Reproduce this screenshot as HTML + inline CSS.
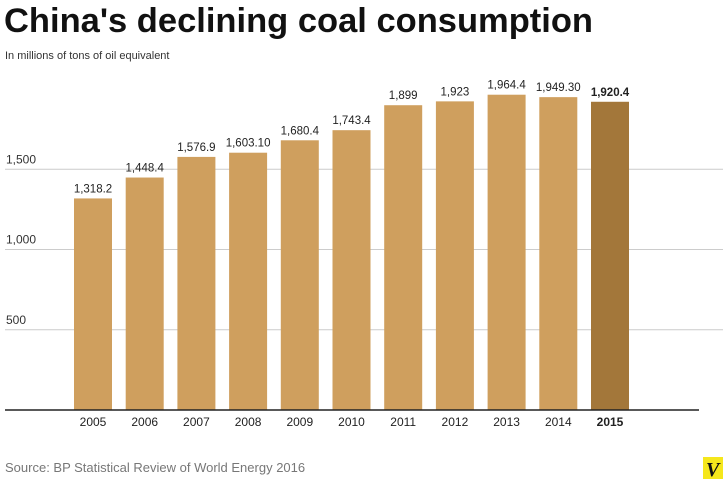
<!DOCTYPE html>
<html><head><meta charset="utf-8"><style>
body{margin:0;width:723px;height:480px;background:#fff;overflow:hidden;font-family:"Liberation Sans",sans-serif;}
</style></head><body>
<svg width="723" height="480" id="c">
<text x="4" y="32" font-size="34.5" font-weight="bold" fill="#111" letter-spacing="0">China's declining coal consumption</text>
<text x="5" y="59" font-size="11" fill="#333">In millions of tons of oil equivalent</text>
<text x="5" y="472" font-size="13" fill="#777">Source: BP Statistical Review of World Energy 2016</text>
<rect x="703" y="457" width="20" height="22" fill="#f5e71c"/>
<text x="706" y="476" font-size="20" font-weight="bold" font-style="italic" font-family="Liberation Serif,serif" fill="#111">V</text>
</svg>
<script>
const years=["2005","2006","2007","2008","2009","2010","2011","2012","2013","2014","2015"];
const values=[1318.2,1448.4,1576.9,1603.1,1680.4,1743.4,1899,1923,1964.4,1949.3,1920.4];
const valueLabels=["1,318.2","1,448.4","1,576.9","1,603.10","1,680.4","1,743.4","1,899","1,923","1,964.4","1,949.30","1,920.4"];
const ticks=[500,1000,1500];
const tickLabels=["500","1,000","1,500"];
const NS="http://www.w3.org/2000/svg",svg=document.getElementById('c');
const y=v=>410-v*0.1605;
const x=i=>74+i*51.7;
function mk(t,a){const e=document.createElementNS(NS,t);for(const k in a)e.setAttribute(k,a[k]);svg.appendChild(e);return e;}
ticks.forEach((t,i)=>{
 const l=mk('line',{x1:5,x2:723,y1:y(t),y2:y(t),stroke:'#ccc','stroke-width':1});
 
 
 const tx=mk('text',{x:6,y:y(t)-6,'font-size':12,fill:'#333'});tx.textContent=tickLabels[i];
 
 
});
years.forEach((yr,i)=>{
 const last=i===years.length-1;
 const r=mk('rect',{x:x(i),y:y(values[i]),width:38,height:410-y(values[i]),fill:last?'#a3773a':'#cf9f5e'});
 
 
 const v=mk('text',{x:x(i)+19,y:y(values[i])-6,'font-size':11.5,fill:'#222','text-anchor':'middle','font-weight':last?'bold':'normal'});v.textContent=valueLabels[i];
 
 
 const t=mk('text',{x:x(i)+19,y:426,'font-size':12,fill:'#222','text-anchor':'middle','font-weight':last?'bold':'normal'});t.textContent=yr;
 
 
});
const b=mk('line',{x1:5,x2:699,y1:410,y2:410,stroke:'#222','stroke-width':1.5});


</script>
</body></html>
